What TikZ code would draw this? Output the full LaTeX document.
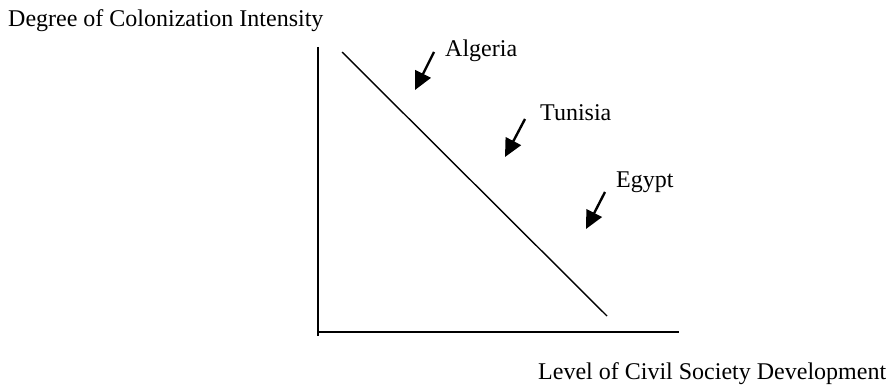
\documentclass[tikz,border=0pt]{standalone}
\usepackage{fontspec}
\setmainfont{Liberation Serif}
\usepackage{tikz}
\usetikzlibrary{arrows.meta}

\begin{document}
\begin{tikzpicture}[
  x=1pt, y=-1pt,
  font=\fontsize{24}{28}\selectfont,
  lab/.style={anchor=base west, inner sep=0pt, text=black},
  axis/.style={line width=1.8pt, draw=black},
  trend/.style={line width=1.4pt, draw=black},
  pointer/.style={-{Triangle[length=18pt, width=17pt]}, line width=2.4pt, draw=black}
]
\useasboundingbox (0,0) rectangle (890,385);

% axes
\coordinate (ytop) at (318,47);
\coordinate (ybot) at (318,336);
\coordinate (xleft) at (318,332);
\coordinate (xright) at (679,332);
\draw[axis] (ytop) -- (ybot);
\draw[axis] (xleft) -- (xright);

% downward trend
\coordinate (hi) at (342,52);
\coordinate (lo) at (607,316);
\draw[trend] (hi) -- (lo);

% axis titles
\node[lab] (ytitle) at (8,26.5) {Degree of Colonization Intensity};
\node[lab] (xtitle) at (538,379) {Level of Civil Society Development};

% countries
\node[lab] (alg) at (445,57) {Algeria};
\node[lab] (tun) at (540,121) {Tunisia};
\node[lab] (egy) at (616,187) {Egypt};

\coordinate (algtail) at (434,52);
\coordinate (algtip) at (415,90);
\coordinate (tuntail) at (525,119);
\coordinate (tuntip) at (505,157);
\coordinate (egytail) at (605,192);
\coordinate (egytip) at (586,229);
\draw[pointer] (algtail) -- (algtip);
\draw[pointer] (tuntail) -- (tuntip);
\draw[pointer] (egytail) -- (egytip);
\end{tikzpicture}
\end{document}
